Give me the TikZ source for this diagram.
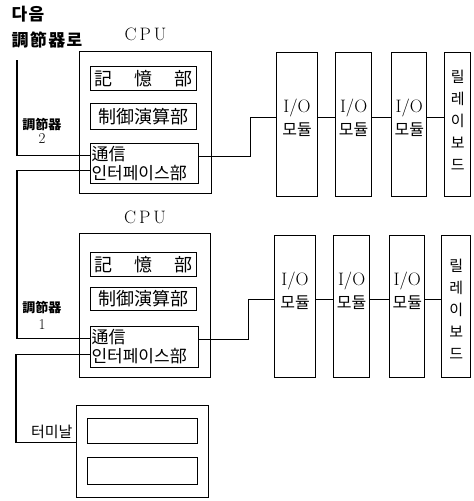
\documentclass[tikz,border=0pt]{standalone}
\usepackage{fontspec}
\newfontfamily\kr{Noto Sans CJK KR}
\newfontfamily\krwide[LetterSpace=8]{Noto Sans CJK KR}
\usetikzlibrary{positioning}

\begin{document}
\begin{tikzpicture}[x=1pt, y=-1pt, line width=1.1pt,
    every node/.style={inner sep=0pt},
    frame/.style={draw, anchor=north west},
    part/.style={draw, anchor=north west, minimum width=106pt,
      font=\kr\fontsize{18}{20}\selectfont},
    comm/.style={draw, anchor=north west, text width=106pt, inner xsep=1pt,
      minimum height=40pt, align=left, font=\kr\fontsize{17}{19}\selectfont},
    iobox/.style={draw, minimum height=144pt},
    iotext/.style={align=center, font=\fontsize{18}{23}\selectfont},
    relaytext/.style={align=center, font=\kr\fontsize{15}{22}\selectfont},
    tag/.style={align=center, font=\kr\bfseries\fontsize{13}{14}\selectfont}]
  \useasboundingbox (0,0) rectangle (474,501);

  % upper controller
  \node[tag, align=left, anchor=north west, font=\krwide\bfseries\fontsize{17}{26}\selectfont]
    (nexttag) at (11,6) {다음\\調節器로};
  \node[frame, minimum width=132pt, minimum height=142pt] (cpuA) at (79,51) {};
  \node[above=10pt of cpuA, font=\fontsize{18}{20}\selectfont] (cpuAt) {C\,P\,U};
  \node[part, minimum height=24pt] (memA) at (90,66) {\makebox[98pt][s]{記\hfil 憶\hfil 部}};
  \node[part, minimum height=26pt] (ctlA) at (90,103) {制御演算部};
  \node[comm] (comA) at (90,143) {通信\\인터페이스部};
  \node[tag] (tagA) at (42,131) {調節器\\{\normalfont\fontsize{15}{15}\selectfont 2}};

  \node[iobox, anchor=north west, minimum width=41pt] (ioA1) at (276,52) {};
  \node[iobox, minimum width=36pt, right=17pt of ioA1] (ioA2) {};
  \node[iobox, minimum width=35pt, right=19pt of ioA2] (ioA3) {};
  \node[iobox, minimum width=26pt, right=17pt of ioA3] (relayA) {};
  \foreach \n in {1,2,3}
    \node[iotext] (ioA\n t) at ([yshift=7pt]ioA\n.center)
      {I/O\\{\kr\fontsize{16}{18}\selectfont 모듈}};
  \node[relaytext] (relayAt) at ([yshift=4pt]relayA.center) {릴\\레\\이\\보\\드};

  % lower controller
  \node[frame, minimum width=131pt, minimum height=144pt] (cpuB) at (79,233) {};
  \node[above=9pt of cpuB, font=\fontsize{18}{20}\selectfont] (cpuBt) {C\,P\,U};
  \node[part, minimum height=24pt] (memB) at (90,252) {\makebox[98pt][s]{記\hfil 憶\hfil 部}};
  \node[part, minimum height=23pt] (ctlB) at (90,287) {制御演算部};
  \node[comm, minimum height=41pt] (comB) at (90,326) {通信\\인터페이스部};
  \node[tag, font=\kr\bfseries\fontsize{13}{17}\selectfont] (tagB) at (42,315)
    {調節器\\{\normalfont\fontsize{15}{15}\selectfont 1}};

  \node[iobox, anchor=north west, minimum width=41pt, minimum height=142pt] (ioB1) at (274,235) {};
  \node[iobox, minimum width=36pt, minimum height=142pt, right=17pt of ioB1] (ioB2) {};
  \node[iobox, minimum width=35pt, minimum height=142pt, right=19pt of ioB2] (ioB3) {};
  \node[iobox, minimum width=29pt, minimum height=142pt, right=16pt of ioB3] (relayB) {};
  \foreach \n in {1,2,3}
    \node[iotext] (ioB\n t) at ([yshift=16pt]ioB\n.center)
      {I/O\\{\kr\fontsize{16}{18}\selectfont 모듈}};
  \node[relaytext] (relayBt) at ([yshift=-3pt]relayB.center) {릴\\레\\이\\보\\드};

  % terminal
  \node[frame, minimum width=132pt, minimum height=92pt] (term) at (76,405) {};
  \node[frame, minimum width=110pt, minimum height=25pt] (termA) at (87,418) {};
  \node[frame, minimum width=110pt, minimum height=27pt] (termB) at (87,457) {};
  \node[anchor=south east, font=\kr\fontsize{15}{17}\selectfont] (termt) at (73,439) {터미날};

  % wiring
  \coordinate (nextA) at (17,60);
  \draw (nextA) |- ([yshift=8pt]comA.west);
  \draw ([yshift=-7pt]comA.west) -- ++(-73,0) |- ([yshift=9pt]comB.west);
  \draw ([yshift=-7pt]comB.west) -- ++(-74,0) |- ([yshift=9pt]term.west);
  \draw ([yshift=7pt]comA.east) -- ++(51,0) |- ([yshift=7pt]ioA1.west);
  \draw ([yshift=8pt]comB.east) -- ++(49,0) |- ([yshift=7pt]ioB1.west);
  \draw ([yshift=7pt]ioA1.east) -- ([yshift=7pt]ioA2.west);
  \draw ([yshift=7pt]ioA2.east) -- ([yshift=7pt]ioA3.west);
  \draw ([yshift=7pt]ioA3.east) -- ([yshift=7pt]relayA.west);
  \draw ([yshift=7pt]ioB1.east) -- ([yshift=7pt]ioB2.west);
  \draw ([yshift=7pt]ioB2.east) -- ([yshift=7pt]ioB3.west);
  \draw ([yshift=7pt]ioB3.east) -- ([yshift=7pt]relayB.west);
\end{tikzpicture}
\end{document}
